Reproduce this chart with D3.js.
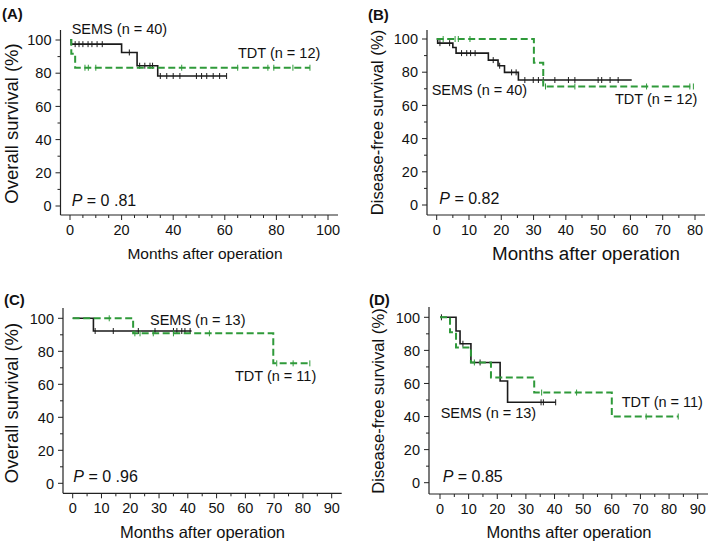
<!DOCTYPE html>
<html><head><meta charset="utf-8">
<script src="https://cdn.jsdelivr.net/npm/d3@7"></script>
<style>body{margin:0;background:#fff}svg{display:block}text{font-family:"Liberation Sans",Arial,sans-serif;fill:#111}</style>
</head><body><svg id="c" width="709" height="544"></svg>
<script>
// ---- Data ----
// Panel A: Overall survival
const A_semsSteps = [[0,100],[0.5,97.5],[20,92.5],[26,84.5],[34,78.3]];
const A_semsEnd = 60.7;
const A_semsCensor = [2,3.5,5,7,8.5,10.5,12.5,23,27,29,31,32,35,37.5,40,42.6,49,51,53,55.5,58,60.7];
const A_tdtSteps = [[0,100],[0.5,91.7],[2,83.3]];
const A_tdtEnd = 93;
const A_tdtCensor = [5.8,7.1,10,43.3,65,76.7,79,86.4,93];
// Panel B: Disease-free survival
const B_semsSteps = [[0,100],[0.3,97.5],[5,94.9],[6,91.5],[16,87.3],[19,83.9],[21,79.9],[25.3,75.3]];
const B_semsEnd = 60.4;
const B_semsCensor = [1,4,7.7,9.3,10.5,11.9,17.5,19.5,23.2,24.6,27.3,29.9,31.5,33,36.6,40.8,42.8,50,51.1,53.7,56.2];
const B_tdtSteps = [[0,100],[30.1,85.7],[33,71.4]];
const B_tdtEnd = 79.5;
const B_tdtCensor = [2,5.7,6.7,10.3,33.7,42.8,65,78.4,79.5];
// Panel C: Overall survival
const C_semsSteps = [[0,100],[7.2,92.3]];
const C_semsEnd = 41.3;
const C_semsCensor = [7.8,14.1,22.8,28.6,35,36.2,37.9,39,40.8];
const C_tdtSteps = [[0,100],[21,90.9],[69.7,72.7]];
const C_tdtEnd = 82.4;
const C_tdtCensor = [12.7,21.6,23.4,28,35,47.5,70.9,76.6,82.4];
// Panel D: Disease-free survival
const D_semsSteps = [[0,100],[5.6,91.7],[7,84],[10.8,72.7],[21,61.5],[23.6,48.6]];
const D_semsEnd = 40.4;
const D_semsCensor = [0.5,8,14,35.3,36.1,40.4];
const D_tdtSteps = [[0,100],[3.5,90.9],[5.6,81.8],[10.8,72.7],[17.8,63.6],[32.9,54.5],[60,40]];
const D_tdtEnd = 83.2;
const D_tdtCensor = [12,35.5,47.7,72,83.2];

const yTicks = [0,20,40,60,80,100];
const xTicksA = [0,20,40,60,80,100];
const xTicksB = [0,10,20,30,40,50,60,70,80];
const xTicksCD = [0,10,20,30,40,50,60,70,80,90];

const BLACK = "#1a1a1a", GREEN = "#2f9a3a";

const svg = d3.select("#c");

function panel(cfg){
  const g = svg.append("g");
  const x = d3.scaleLinear().domain([0, cfg.xMax]).range([cfg.x0, cfg.x1]);
  const y = d3.scaleLinear().domain([0,100]).range([cfg.y0, cfg.y100]);
  // axes lines
  g.append("line").attr("x1",cfg.left).attr("x2",cfg.left).attr("y1",cfg.top).attr("y2",cfg.axisY).attr("stroke","#222").attr("stroke-width",1.2);
  g.append("line").attr("x1",cfg.left).attr("x2",cfg.xEnd).attr("y1",cfg.axisY).attr("y2",cfg.axisY).attr("stroke","#222").attr("stroke-width",1.2);
  // y ticks
  const yMinor = d3.range(10,100,20);
  yTicks.forEach(t=>{
    g.append("line").attr("x1",cfg.left-5).attr("x2",cfg.left).attr("y1",y(t)).attr("y2",y(t)).attr("stroke","#222");
    g.append("text").attr("x",cfg.left-9).attr("y",y(t)).attr("dy","0.36em").attr("text-anchor","end").attr("font-size",14.5).text(t);
  });
  yMinor.forEach(t=>{
    g.append("line").attr("x1",cfg.left-3).attr("x2",cfg.left).attr("y1",y(t)).attr("y2",y(t)).attr("stroke","#222");
  });
  // x ticks
  cfg.xTicks.forEach(t=>{
    g.append("line").attr("x1",x(t)).attr("x2",x(t)).attr("y1",cfg.axisY).attr("y2",cfg.axisY+5).attr("stroke","#222");
    g.append("text").attr("x",x(t)).attr("y",cfg.axisY+20).attr("text-anchor","middle").attr("font-size",14.5).text(t);
  });
  d3.range(5, cfg.xMax, 5).filter(t=>!cfg.xTicks.includes(t)).forEach(t=>{
    g.append("line").attr("x1",x(t)).attr("x2",x(t)).attr("y1",cfg.axisY).attr("y2",cfg.axisY+3).attr("stroke","#222");
  });
  // titles
  g.append("text").attr("x",cfg.xtX).attr("y",cfg.xtY).attr("text-anchor","middle").attr("font-size",cfg.xtSize).text("Months after operation");
  g.append("text").attr("transform",`translate(${cfg.ytX},${cfg.ytY}) rotate(-90)`).attr("text-anchor","middle").attr("font-size",cfg.ytSize).text(cfg.yTitle);
  g.append("text").attr("x",cfg.labX).attr("y",cfg.labY).attr("font-size",15).attr("font-weight","bold").text(cfg.label);
  // P value
  const pt = g.append("text").attr("x",cfg.pX).attr("y",cfg.pY).attr("dy","0.36em").attr("font-size",16);
  pt.append("tspan").attr("font-style","italic").text("P");
  pt.append("tspan").text(cfg.pText);
  // curves
  function curve(steps, end, censor, color, dashed, width){
    const pts = [];
    steps.forEach((s,i)=>{
      if(i>0) pts.push([s[0], steps[i-1][1]]);
      pts.push(s);
    });
    pts.push([end, steps[steps.length-1][1]]);
    const line = d3.line().x(d=>x(d[0])).y(d=>y(d[1]));
    g.append("path").attr("d",line(pts)).attr("fill","none").attr("stroke",color).attr("stroke-width",width)
      .attr("stroke-dasharray",dashed?"7,3.5":null);
    censor.forEach(c=>{
      let v = steps[0][1];
      steps.forEach(s=>{ if(s[0] <= c) v = s[1]; });
      g.append("line").attr("x1",x(c)).attr("x2",x(c)).attr("y1",y(v)-3).attr("y2",y(v)+3).attr("stroke",color).attr("stroke-width",1);
    });
  }
  curve(cfg.sems[0], cfg.sems[1], cfg.sems[2], BLACK, false, 1.6);
  curve(cfg.tdt[0], cfg.tdt[1], cfg.tdt[2], GREEN, true, 2);
  // series labels
  cfg.notes.forEach(n=>{
    g.append("text").attr("x",n[0]).attr("y",n[1]).attr("dy","0.36em").attr("font-size",14.5).text(n[2]);
  });
}

panel({left:60.5, x0:70, x1:328, xMax:100, xTicks:xTicksA, top:30, y100:40, y0:206, axisY:215, xEnd:338,
  xtX:205, xtY:259, xtSize:15.5, ytX:17.5, ytY:123.5, ytSize:18.5, yTitle:"Overall survival (%)", labX:2, labY:19, label:"(A)",
  pX:71.7, pY:200, pText:" = 0 .81",
  sems:[A_semsSteps,A_semsEnd,A_semsCensor], tdt:[A_tdtSteps,A_tdtEnd,A_tdtCensor],
  notes:[[71.7,29,"SEMS (n = 40)"],[238,53,"TDT (n = 12)"]]});
panel({left:427, x0:436.7, x1:695, xMax:80, xTicks:xTicksB, top:30, y100:39, y0:205, axisY:215, xEnd:705,
  xtX:586, xtY:260, xtSize:18.8, ytX:383, ytY:122.5, ytSize:16.6, yTitle:"Disease-free survival (%)", labX:368, labY:20, label:"(B)",
  pX:439.3, pY:198.3, pText:" = 0.82",
  sems:[B_semsSteps,B_semsEnd,B_semsCensor], tdt:[B_tdtSteps,B_tdtEnd,B_tdtCensor],
  notes:[[431.7,90,"SEMS (n = 40)"],[615,98.3,"TDT (n = 12)"]]});
panel({left:63, x0:72.7, x1:331.7, xMax:90, xTicks:xTicksCD, top:308, y100:318.3, y0:483.3, axisY:493.3, xEnd:341.7,
  xtX:202.5, xtY:538, xtSize:16.5, ytX:18, ytY:403, ytSize:18.5, yTitle:"Overall survival (%)", labX:4, labY:305, label:"(C)",
  pX:73.3, pY:476.7, pText:" = 0 .96",
  sems:[C_semsSteps,C_semsEnd,C_semsCensor], tdt:[C_tdtSteps,C_tdtEnd,C_tdtCensor],
  notes:[[150,319.3,"SEMS (n = 13)"],[235,376,"TDT (n = 11)"]]});
panel({left:429, x0:440, x1:697.7, xMax:90, xTicks:xTicksCD, top:307, y100:317.3, y0:482.7, axisY:494, xEnd:708,
  xtX:569, xtY:538, xtSize:16.5, ytX:384, ytY:401, ytSize:16.6, yTitle:"Disease-free survival (%)", labX:369, labY:305, label:"(D)",
  pX:442.7, pY:476, pText:" = 0.85",
  sems:[D_semsSteps,D_semsEnd,D_semsCensor], tdt:[D_tdtSteps,D_tdtEnd,D_tdtCensor],
  notes:[[440.7,412.7,"SEMS (n = 13)"],[621.7,401.7,"TDT (n = 11)"]]});
</script></body></html>
